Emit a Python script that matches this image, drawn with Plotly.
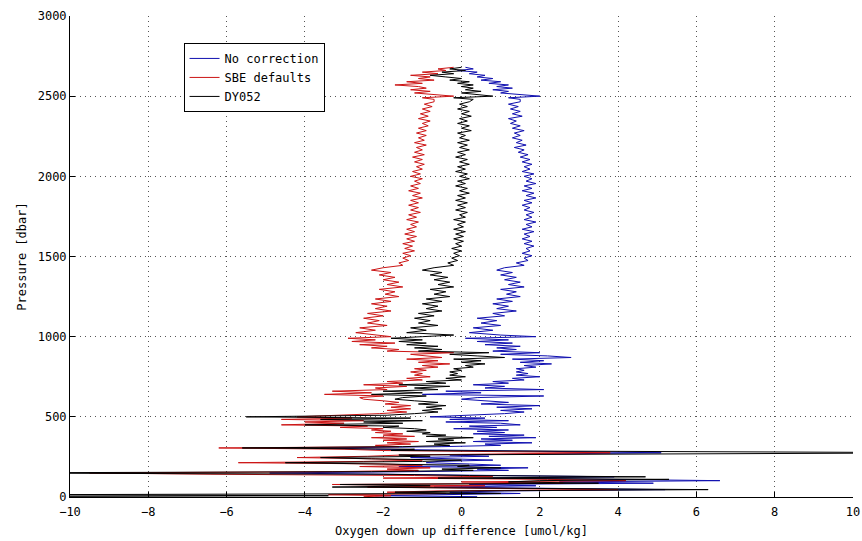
import plotly.graph_objects as go

# Pressure levels [dbar]
pressure = [
    # 2680 - 2480
    2680, 2670, 2660, 2650, 2640, 2630, 2620, 2610, 2600, 2590, 2580, 2570, 2560, 2550, 2540,
    2530, 2520, 2510, 2500, 2490, 2480,
    # 2465 - 1010
    2465, 2450, 2435, 2420, 2405, 2390, 2375, 2360, 2345, 2330, 2315, 2300,
    2285, 2270, 2255, 2240, 2225, 2210, 2195, 2180, 2165, 2150, 2135, 2120,
    2105, 2090, 2075, 2060, 2045, 2030, 2015, 2000, 1985, 1970, 1955, 1940,
    1925, 1910, 1895, 1880, 1865, 1850, 1835, 1820, 1805, 1790, 1775, 1760,
    1745, 1730, 1715, 1700, 1685, 1670, 1655, 1640, 1625, 1610, 1595, 1580,
    1565, 1550, 1535, 1520, 1505, 1490, 1475, 1460, 1445, 1430, 1415, 1400,
    1385, 1370, 1355, 1340, 1325, 1310, 1295, 1280, 1265, 1250, 1235, 1220,
    1205, 1190, 1175, 1160, 1145, 1130, 1115, 1100, 1085, 1070, 1055, 1040,
    1025, 1010,
    # 1000 - 510
    1000, 990, 980, 970, 960, 950, 940, 930, 920, 910,
    900, 890, 880, 870, 860, 850, 840, 830, 820, 810,
    800, 790, 780, 770, 760, 750, 740, 730, 720, 710,
    700, 690, 680, 670, 660, 650, 640, 630, 620, 610,
    600, 590, 580, 570, 560, 550, 540, 530, 520, 510,
    # 500 - 2
    500, 492, 484, 476, 468, 460,
    450, 442, 434, 426, 418, 410, 402, 394, 386, 378, 370, 362, 354, 346, 338, 330, 322, 314,
    306, 298, 290, 276, 262,
    254, 246, 238, 230, 222, 214, 206, 198, 190, 182, 174, 166, 158, 150, 142, 134, 126, 118,
    110, 102, 94, 86, 78, 70, 62, 54, 46, 38, 30, 22, 14,
    8, 2,
]

# Oxygen down-up difference [umol/kg]
no_correction = [
    0.1, 0.3, -0.1, 0.4, 0.2, 0.6, 0.4, 0.8, 0.5, 1.0, 0.7, 1.2, 0.9, 1.3, 0.8,
    1.2, 1.0, 1.6, 2.0, 1.2, 1.5,
    1.5, 1.2, 1.45, 1.25, 1.5, 1.3, 1.55, 1.2, 1.4, 1.25, 1.5, 1.3,
    1.6, 1.35, 1.5, 1.3, 1.55, 1.4, 1.65, 1.35, 1.6, 1.45, 1.7, 1.5,
    1.75, 1.55, 1.8, 1.6, 1.75, 1.55, 1.85, 1.6, 1.8, 1.65, 1.9, 1.6,
    1.8, 1.55, 1.85, 1.65, 1.9, 1.6, 1.8, 1.55, 1.75, 1.6, 1.85, 1.65,
    1.8, 1.6, 1.9, 1.65, 1.8, 1.55, 1.85, 1.6, 1.75, 1.55, 1.8, 1.6,
    1.85, 1.65, 1.75, 1.55, 1.8, 1.6, 1.7, 1.4, 1.6, 1.1, 0.9, 1.3,
    1.0, 1.4, 1.1, 1.5, 1.2, 1.6, 1.0, 1.4, 1.15, 1.5, 0.9, 1.3,
    0.8, 1.2, 0.9, 1.4, 0.8, 1.1, 0.4, 0.9, 0.5, 1.0, 0.3, 0.8,
    0.2, 1.0,
    1.9, 0.1, 1.2, 0.4, 1.3, 0.6, 1.5, 0.9, 1.4, 0.8,
    2.0, 1.0, 2.2, 2.8, 1.3, 2.1, 1.5, 2.3, 1.6, 1.9,
    1.4, 1.6, 1.4, 1.7, 1.4, 2.0, 1.3, 1.6, 0.8, 1.2,
    0.3, 1.1, 0.6, 2.1, -0.4, 0.5, -1.0, 2.1, 0.4, 0.0,
    0.6, 1.2, 0.5, 2.0, 0.9, 1.8, 1.0, 1.6, 1.1, 0.3,
    -0.8, 0.6, -0.3, 1.2, -0.4, 1.0,
    1.5, 0.2, 0.9, -0.2, 1.2, 0.4, 1.1, 0.3, 1.6, 0.7, 1.9, 0.5, 1.3, 0.3, 1.8, 0.6, 1.0, -0.5,
    -3.6, -2.2, 0.1, 5.1, -0.3,
    0.7, -1.3, -0.1, 0.8, -0.6, -0.9, 0.2, 1.0, -1.6, 1.7, 0.4, 1.2, -1.2, -4.9, -2.0, 1.4, 3.9, 0.8,
    4.7, 6.6, 2.5, 4.9, 0.2, 1.9, -0.7, 2.6, 5.2, 1.1, -0.3, 1.5, -1.0,
    -2.2, 0.4,
]

sbe_defaults = [
    -0.2, -0.6, -0.4, -1.0, -0.6, -1.3, -0.8, -1.1, -0.7, -1.4, -1.0, -1.7, -1.1, -0.9, -1.3,
    -0.8, -1.2, -0.6, -0.2, -1.0, -0.7,
    -0.7, -0.95, -0.75, -1.0, -0.8, -1.05, -0.85, -1.1, -0.8, -1.0, -0.85, -1.1,
    -0.9, -1.15, -0.9, -1.1, -0.95, -1.2, -0.9, -1.15, -1.0, -1.2, -0.95, -1.25,
    -1.0, -1.2, -0.95, -1.15, -1.0, -1.25, -1.05, -1.3, -1.0, -1.2, -1.05, -1.3,
    -1.1, -1.35, -1.05, -1.25, -1.0, -1.3, -1.1, -1.35, -1.1, -1.3, -1.05, -1.35,
    -1.15, -1.4, -1.1, -1.3, -1.15, -1.4, -1.2, -1.45, -1.15, -1.4, -1.2, -1.5,
    -1.25, -1.45, -1.2, -1.5, -1.3, -1.5, -1.35, -1.6, -1.5, -2.0, -2.3, -1.8,
    -2.1, -1.7, -2.0, -1.6, -1.9, -1.5, -2.1, -1.7, -1.95, -1.6, -2.2, -1.8,
    -2.3, -1.9, -2.2, -1.8, -2.4, -2.0, -2.5, -2.1, -2.4, -1.9, -2.6, -2.2,
    -2.7, -2.1,
    -1.8, -2.9, -2.2, -2.8, -1.7, -2.6, -1.9, -2.3, -1.6, -1.9,
    -0.2, -1.3, -0.8, -0.5, -1.4, -0.6, -1.1, -0.3, -1.0, -0.6,
    -1.2, -0.9, -1.3, -1.0, -1.2, -0.8, -1.4, -1.0, -1.9, -1.5,
    -2.5, -1.4, -2.2, -1.9, -3.3, -2.3, -3.5, -2.0, -2.6, -2.5,
    -2.0, -1.6, -1.95, -1.3, -1.8, -1.3, -1.9, -1.4, -2.1, -3.0,
    -4.2, -2.8, -4.6, -2.5, -4.0, -3.0,
    -4.6, -2.4, -3.1, -2.0, -2.3, -1.8, -2.2, -1.5, -2.0, -1.2, -2.3, -1.4, -2.0, -1.1, -1.9, -1.3, -2.2, -1.6,
    -6.2, -3.0, -2.0, 3.8, -1.5,
    -2.4, -4.2, -2.2, -1.0, -2.5, -5.7, -2.0, -1.0, -2.6, -0.8, -1.9, -1.1, -3.3, -9.5, -6.4, -1.2, 0.8, -2.0,
    2.2, 4.2, 0.0, 2.6, -3.3, 0.6, -2.4, 0.9, 4.0, -0.6, -1.9, -0.4, -3.4,
    -1.8, -2.5,
]

dy052 = [
    0.0, -0.3, 0.1, -0.5, -0.2, -0.8, -0.4, 0.0, -0.3, 0.2, -0.1, 0.3, 0.0, 0.3, 0.1,
    0.5, 0.0, 0.4, 0.8, -0.2, 0.3,
    0.2, -0.05, 0.15, -0.1, 0.2, 0.0, 0.25, -0.05, 0.15, -0.1, 0.2, 0.0,
    0.25, -0.1, 0.1, -0.05, 0.2, -0.1, 0.15, -0.05, 0.2, -0.1, 0.1, -0.15,
    0.15, -0.05, 0.2, -0.1, 0.1, -0.15, 0.15, -0.05, 0.2, -0.1, 0.1, -0.15,
    0.15, -0.05, 0.2, -0.1, 0.1, -0.15, 0.15, -0.1, 0.1, -0.15, 0.15, -0.05,
    0.1, -0.2, 0.1, -0.1, 0.05, -0.2, 0.1, -0.15, 0.05, -0.2, 0.05, -0.15,
    0.0, -0.25, 0.0, -0.2, -0.05, -0.25, -0.1, -0.35, -0.2, -0.7, -1.0, -0.5,
    -0.8, -0.35, -0.7, -0.3, -0.6, -0.2, -0.8, -0.4, -0.7, -0.3, -0.9, -0.5,
    -1.0, -0.6, -0.9, -0.5, -1.1, -0.7, -1.2, -0.8, -1.1, -0.6, -1.3, -0.9,
    -1.4, -0.2,
    -1.0, -1.8, -1.0, -1.6, -0.9, -1.4, -0.6, -1.2, -0.5, -1.1,
    0.7, -0.3, 0.4, 1.1, -0.2, 0.5, 0.0, 0.6, 0.1, 0.3,
    -0.2, 0.0, -0.3, -0.1, -0.3, 0.1, -0.4, 0.0, -0.9, -0.4,
    -1.6, -0.3, -1.2, -0.6, -2.0, -1.0, -2.3, -0.9, -1.5, -1.7,
    -1.2, -0.6, -1.1, -0.4, -0.9, -0.5, -1.0, -0.6, -1.2, -1.9,
    -5.5, -1.3, -3.6, -1.0, -2.5, -1.5,
    -4.0, -1.6, -2.0, -1.2, -0.9, -1.4, -0.8, -1.0, -0.4, -0.9, 0.3, -0.6, -0.2, -0.9, 0.1, -0.7, -0.3, -1.5,
    -5.6, -1.2, -1.8, 13.0, -1.6,
    -0.8, -3.6, -2.3, 0.0, -1.0, -4.5, -1.5, 0.2, -0.1, 1.0, -0.5, 0.3, -2.3, -13.0, -2.0, 0.2, 4.7, -0.6,
    5.3, 2.0, 1.2, 3.5, -3.1, -0.8, -3.3, 1.9, 6.3, 0.2, -1.7, 1.0, -12.0,
    -3.4, -13.0,
]

series_names = ["No correction", "SBE defaults", "DY052"]
series_colors = ["#1010b0", "#cc1515", "#000000"]
x_ticks = [-10, -8, -6, -4, -2, 0, 2, 4, 6, 8, 10]
y_ticks = [0, 500, 1000, 1500, 2000, 2500, 3000]

assert len(pressure) == len(no_correction) == len(sbe_defaults) == len(dy052)

FONT = "DejaVu Sans Mono"

fig = go.Figure()
for name, vals, col in zip(series_names, [no_correction, sbe_defaults, dy052], series_colors):
    fig.add_trace(go.Scatter(x=vals, y=pressure, mode="lines", name=name,
                             line=dict(color=col, width=1)))

axis_common = dict(
    showline=True, linecolor="#000", linewidth=1,
    ticks="inside", ticklen=5, tickcolor="#000", tickwidth=1,
    showgrid=True, gridcolor="#555", griddash="1px,4px", gridwidth=1,
    zeroline=False, mirror=False, automargin=False,
    ticklabeloverflow="allow",
    tickfont=dict(family=FONT, size=12, color="#000"),
)

fig.update_layout(
    width=862, height=541, autosize=False,
    margin=dict(l=70, r=9, t=16, b=44),
    paper_bgcolor="white", plot_bgcolor="white",
    font=dict(family=FONT, size=12, color="#000"),
    xaxis=dict(range=[-10, 10], tickvals=x_ticks, ticklabelstandoff=4,
               title=dict(text="Oxygen down up difference [umol/kg]", standoff=8,
                          font=dict(family=FONT, size=12)),
               **axis_common),
    yaxis=dict(range=[0, 3000], tickvals=y_ticks,
               title=dict(text="Pressure [dbar]", standoff=8,
                          font=dict(family=FONT, size=12)),
               **axis_common),
    legend=dict(x=0.145, y=0.944, xanchor="left", yanchor="top",
                bgcolor="white", bordercolor="#000", borderwidth=1,
                font=dict(family=FONT, size=12, color="#000"),
                tracegroupgap=0),
    showlegend=True,
)

fig.write_html("out.html")
